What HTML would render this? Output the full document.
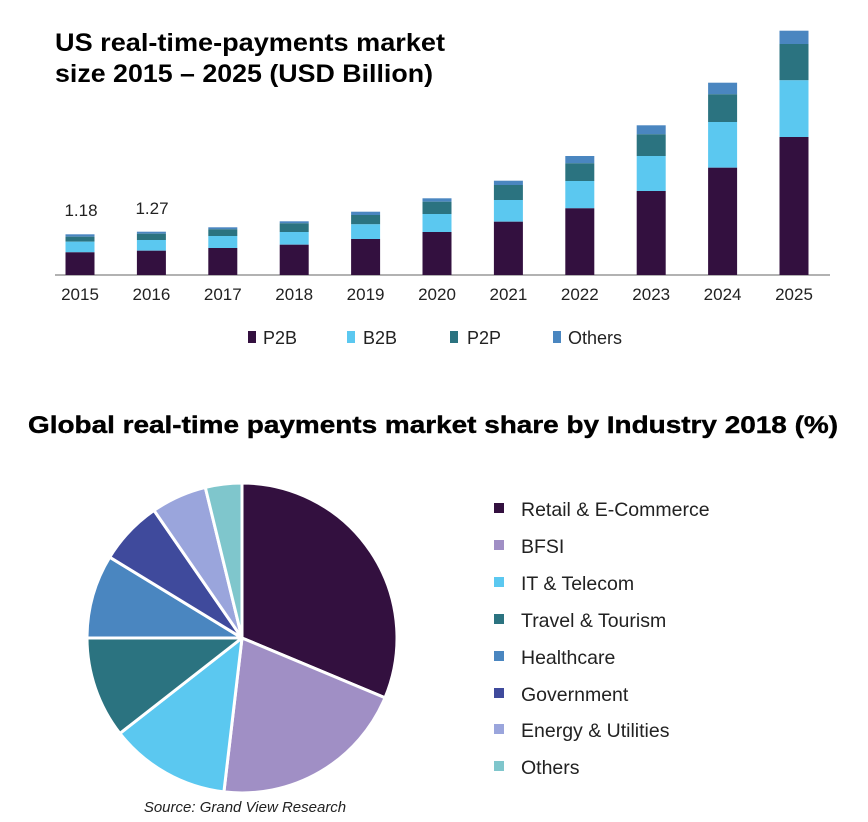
<!DOCTYPE html>
<html><head><meta charset="utf-8"><style>
html,body{margin:0;padding:0;background:#fff;}
svg{display:block;font-family:"Liberation Sans",Arial,sans-serif;}
</style></head><body>
<svg width="868" height="822" viewBox="0 0 868 822" xmlns="http://www.w3.org/2000/svg">
<rect width="868" height="822" fill="#fff"/>
<text x="55" y="51" font-size="25" font-weight="bold" fill="#000" textLength="390" lengthAdjust="spacingAndGlyphs">US real-time-payments market</text>
<text x="55" y="82" font-size="25" font-weight="bold" fill="#000" textLength="378" lengthAdjust="spacingAndGlyphs">size 2015 – 2025 (USD Billion)</text>
<line x1="55" y1="275" x2="830" y2="275" stroke="#999" stroke-width="1.5"/>
<g id="bars">
<g transform="translate(65.5,0)"><rect y="234.3" width="29" height="2.4" fill="#4a86c0"/><rect y="236.7" width="29" height="5" fill="#2b7380"/><rect y="241.7" width="29" height="10.6" fill="#5bc8f0"/><rect y="252.3" width="29" height="22.7" fill="#33103f"/></g>
<g transform="translate(136.9,0)"><rect y="231.7" width="29" height="2" fill="#4a86c0"/><rect y="233.7" width="29" height="6.3" fill="#2b7380"/><rect y="240" width="29" height="10.7" fill="#5bc8f0"/><rect y="250.7" width="29" height="24.3" fill="#33103f"/></g>
<g transform="translate(208.3,0)"><rect y="227.3" width="29" height="2" fill="#4a86c0"/><rect y="229.3" width="29" height="6.7" fill="#2b7380"/><rect y="236" width="29" height="12" fill="#5bc8f0"/><rect y="248" width="29" height="27" fill="#33103f"/></g>
<g transform="translate(279.7,0)"><rect y="221.3" width="29" height="2" fill="#4a86c0"/><rect y="223.3" width="29" height="8.7" fill="#2b7380"/><rect y="232" width="29" height="12.7" fill="#5bc8f0"/><rect y="244.7" width="29" height="30.3" fill="#33103f"/></g>
<g transform="translate(351.1,0)"><rect y="211.7" width="29" height="3.3" fill="#4a86c0"/><rect y="215" width="29" height="9.3" fill="#2b7380"/><rect y="224.3" width="29" height="14.7" fill="#5bc8f0"/><rect y="239" width="29" height="36" fill="#33103f"/></g>
<g transform="translate(422.5,0)"><rect y="198.3" width="29" height="3.4" fill="#4a86c0"/><rect y="201.7" width="29" height="12.3" fill="#2b7380"/><rect y="214" width="29" height="18" fill="#5bc8f0"/><rect y="232" width="29" height="43" fill="#33103f"/></g>
<g transform="translate(493.9,0)"><rect y="180.7" width="29" height="4.3" fill="#4a86c0"/><rect y="185" width="29" height="15" fill="#2b7380"/><rect y="200" width="29" height="21.7" fill="#5bc8f0"/><rect y="221.7" width="29" height="53.3" fill="#33103f"/></g>
<g transform="translate(565.3,0)"><rect y="156" width="29" height="7.3" fill="#4a86c0"/><rect y="163.3" width="29" height="17.7" fill="#2b7380"/><rect y="181" width="29" height="27.3" fill="#5bc8f0"/><rect y="208.3" width="29" height="66.7" fill="#33103f"/></g>
<g transform="translate(636.7,0)"><rect y="125.3" width="29" height="9" fill="#4a86c0"/><rect y="134.3" width="29" height="21.7" fill="#2b7380"/><rect y="156" width="29" height="35" fill="#5bc8f0"/><rect y="191" width="29" height="84" fill="#33103f"/></g>
<g transform="translate(708.1,0)"><rect y="82.7" width="29" height="11.6" fill="#4a86c0"/><rect y="94.3" width="29" height="27.7" fill="#2b7380"/><rect y="122" width="29" height="45.7" fill="#5bc8f0"/><rect y="167.7" width="29" height="107.3" fill="#33103f"/></g>
<g transform="translate(779.5,0)"><rect y="30.7" width="29" height="13.3" fill="#4a86c0"/><rect y="44" width="29" height="36.3" fill="#2b7380"/><rect y="80.3" width="29" height="57" fill="#5bc8f0"/><rect y="137" width="29" height="138" fill="#33103f"/></g>
</g>
<g font-size="17" fill="#222" text-anchor="middle">
<text x="80" y="300">2015</text><text x="151.4" y="300">2016</text><text x="222.8" y="300">2017</text><text x="294.2" y="300">2018</text><text x="365.6" y="300">2019</text><text x="437" y="300">2020</text><text x="508.4" y="300">2021</text><text x="579.8" y="300">2022</text><text x="651.2" y="300">2023</text><text x="722.6" y="300">2024</text><text x="794" y="300">2025</text>
<text x="81" y="216">1.18</text><text x="152" y="214">1.27</text>
</g>
<g font-size="18" fill="#222">
<rect x="248" y="331" width="8" height="12" fill="#33103f"/><text x="263" y="344">P2B</text>
<rect x="347" y="331" width="8" height="12" fill="#5bc8f0"/><text x="363" y="344">B2B</text>
<rect x="450" y="331" width="8" height="12" fill="#2b7380"/><text x="467" y="344">P2P</text>
<rect x="553" y="331" width="8" height="12" fill="#4a86c0"/><text x="568" y="344">Others</text>
</g>
<text x="28" y="433" font-size="24" font-weight="bold" fill="#000" stroke="#000" stroke-width="0.4" textLength="810" lengthAdjust="spacingAndGlyphs">Global real-time payments market share by Industry 2018 (%)</text>
<g stroke="#fff" stroke-width="3" stroke-linejoin="round">
<path d="M242,638 L242,483 A155,155 0 0 1 385,697.8 Z" fill="#33103f"/>
<path d="M242,638 L385,697.8 A155,155 0 0 1 223.9,791.9 Z" fill="#a08fc5"/>
<path d="M242,638 L223.9,791.9 A155,155 0 0 1 119.9,733.4 Z" fill="#5bc8f0"/>
<path d="M242,638 L119.9,733.4 A155,155 0 0 1 87,638 Z" fill="#2b7380"/>
<path d="M242,638 L87,638 A155,155 0 0 1 109.7,557.2 Z" fill="#4a86c0"/>
<path d="M242,638 L109.7,557.2 A155,155 0 0 1 154,510.4 Z" fill="#3f4a9c"/>
<path d="M242,638 L154,510.4 A155,155 0 0 1 205.3,487.4 Z" fill="#9aa5dc"/>
<path d="M242,638 L205.3,487.4 A155,155 0 0 1 242,483 Z" fill="#7fc6cc"/>
</g>
<g font-size="19.5" fill="#222">
<rect x="494" y="503" width="10" height="10" fill="#33103f"/><text x="521" y="516">Retail &amp; E-Commerce</text>
<rect x="494" y="540" width="10" height="10" fill="#a08fc5"/><text x="521" y="553">BFSI</text>
<rect x="494" y="577" width="10" height="10" fill="#5bc8f0"/><text x="521" y="590">IT &amp; Telecom</text>
<rect x="494" y="614" width="10" height="10" fill="#2b7380"/><text x="521" y="627">Travel &amp; Tourism</text>
<rect x="494" y="651" width="10" height="10" fill="#4a86c0"/><text x="521" y="664">Healthcare</text>
<rect x="494" y="688" width="10" height="10" fill="#3f4a9c"/><text x="521" y="701">Government</text>
<rect x="494" y="724" width="10" height="10" fill="#9aa5dc"/><text x="521" y="737">Energy &amp; Utilities</text>
<rect x="494" y="761" width="10" height="10" fill="#7fc6cc"/><text x="521" y="774">Others</text>
</g>
<text x="245" y="812" font-size="15" font-style="italic" fill="#222" text-anchor="middle">Source: Grand View Research</text>
</svg>
</body></html>
